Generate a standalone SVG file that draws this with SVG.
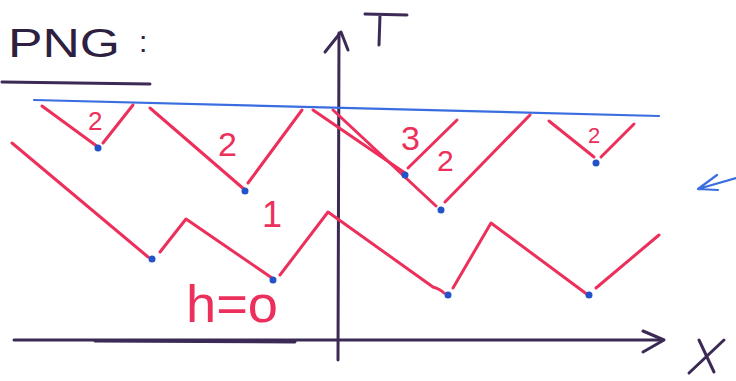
<svg xmlns="http://www.w3.org/2000/svg" width="736" height="381" viewBox="0 0 736 381">
<style>
.ax{fill:none;stroke:#3b2a55;stroke-width:3;stroke-linecap:round;stroke-linejoin:round}
.rd{fill:none;stroke:#ec2f5b;stroke-width:3;stroke-linecap:round;stroke-linejoin:round}
.bl{fill:none;stroke:#3a6ee0;stroke-width:2.2;stroke-linecap:round;stroke-linejoin:round}
.dot{fill:#2453c8}
.lab{fill:#ec2f5b;font-family:"Liberation Sans",Arial,sans-serif}
.tt{fill:#2e2040;font-family:"Liberation Sans",Arial,sans-serif}
</style>
<rect width="736" height="381" fill="#ffffff"/>
<g id="title">
<text class="tt" x="8" y="57" font-size="40" textLength="112" lengthAdjust="spacingAndGlyphs">PNG</text>
<text class="tt" x="139" y="52" font-size="30">:</text>
<path class="ax" d="M2,82 L150,84"/>
</g>
<g id="axes">
<path class="ax" d="M338,360 L339,33"/>
<path class="ax" d="M325,52 L341,32 L348,50"/>
<path class="ax" d="M14,340 L662,340"/>
<path class="ax" d="M95,341 L295,342" stroke-width="4"/>
<path class="ax" d="M643,331 L664,340 L643,352"/>
<path class="ax" d="M365,14 L407,15 M380,15 L379,45" stroke-width="3.5"/>
<path class="ax" d="M689,373 L724,340 M699,340 L714,372" stroke-width="3"/>
</g>
<g id="surface">
<path class="bl" d="M34,100 L659,116"/>
<path class="bl" d="M736,178 L698,189 L717,175 M698,189 L718,190" stroke-width="3"/>
</g>
<g id="branches">
<path class="rd" d="M42,106 L98,147 M103,143 L133,105"/>
<path class="rd" d="M150,108 L245,190 M248,183 L302,110"/>
<path class="rd" d="M313,110 L405,173 M408,168 L457,120"/>
<path class="rd" d="M333,110 L436,206 M445,202 L530,115"/>
<path class="rd" d="M549,121 L594,157 M601,157 L634,124"/>
<path class="rd" d="M12,143 L148,257 M160,252 L186,219 L272,278 M280,275 L328,212 L433,287 Q440,289 444,293 M453,288 L491,223 L588,295 M596,288 L659,235"/>
</g>
<g id="dots">
<circle class="dot" cx="98" cy="148" r="3.5"/>
<circle class="dot" cx="245" cy="191" r="3.5"/>
<circle class="dot" cx="405" cy="175" r="3.5"/>
<circle class="dot" cx="441" cy="210" r="3.5"/>
<circle class="dot" cx="596" cy="163" r="3.5"/>
<circle class="dot" cx="152" cy="259" r="3.5"/>
<circle class="dot" cx="273" cy="280" r="3.5"/>
<circle class="dot" cx="448" cy="295" r="3.5"/>
<circle class="dot" cx="589" cy="295" r="3.5"/>
</g>
<g id="labels">
<text class="lab" x="88" y="130" font-size="26">2</text>
<text class="lab" x="218" y="156" font-size="34">2</text>
<text class="lab" x="401" y="150" font-size="34">3</text>
<text class="lab" x="437" y="171" font-size="30">2</text>
<text class="lab" x="588" y="143" font-size="22">2</text>
<text class="lab" x="262" y="227" font-size="36">1</text>
<text class="lab" x="186" y="322" font-size="52" textLength="92" lengthAdjust="spacingAndGlyphs">h=o</text>
</g>
</svg>
